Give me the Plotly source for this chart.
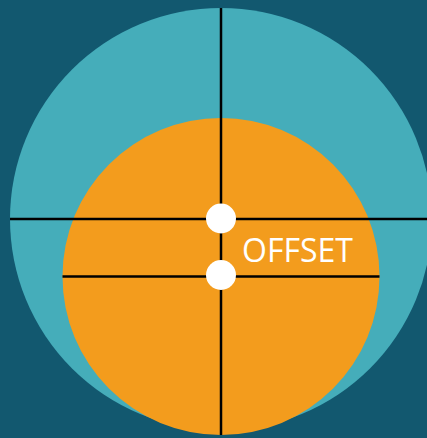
import plotly.graph_objects as go

# Data (pixel-like units of the drawing, y grows downward)
circle_names = ["outer", "inner"]
circle_cx = [221, 221]
circle_cy = [219, 276.5]
circle_r = [211, 158.5]
circle_colors = ["#45ADBA", "#F39C1D"]

dot_x = [221, 221]
dot_y = [218.5, 275]

label_text = "OFFSET"
label_x = 297
label_y = 249

W, H = 427, 438
BG = "#12586F"

fig = go.Figure()
shapes = []
for cx, cy, r, col in zip(circle_cx, circle_cy, circle_r, circle_colors):
    shapes.append(dict(type="circle", xref="x", yref="y",
                       x0=cx - r, x1=cx + r, y0=cy - r, y1=cy + r,
                       fillcolor=col, line=dict(width=0), layer="below"))
# vertical axis line
shapes.append(dict(type="line", xref="x", yref="y", layer="below",
                   x0=circle_cx[0], x1=circle_cx[0],
                   y0=circle_cy[0] - circle_r[0], y1=circle_cy[1] + circle_r[1],
                   line=dict(color="#000000", width=2.5)))
# horizontal lines through each circle
for cx, cy, r in zip(circle_cx, circle_cy, circle_r):
    shapes.append(dict(type="line", xref="x", yref="y", layer="below",
                       x0=cx - r, x1=cx + r, y0=cy, y1=cy,
                       line=dict(color="#000000", width=2.5)))

fig.add_trace(go.Scatter(x=dot_x, y=dot_y, mode="markers",
                         marker=dict(size=30, color="white", line=dict(width=0)),
                         hoverinfo="skip", showlegend=False, cliponaxis=False))

fig.add_annotation(x=label_x, y=label_y, xref="x", yref="y", text=label_text,
                   showarrow=False, font=dict(family="Open Sans", size=32, color="white"),
                   xanchor="center", yanchor="middle")

fig.update_layout(
    width=W, height=H, margin=dict(l=0, r=0, t=0, b=0),
    paper_bgcolor=BG, plot_bgcolor=BG, shapes=shapes, showlegend=False,
    xaxis=dict(range=[0, W], visible=False, fixedrange=True),
    yaxis=dict(range=[H, 0], visible=False, fixedrange=True),
)
fig.write_html("out.html", config={"displayModeBar": False},
               post_script="document.body.style.margin='0';document.body.style.background='%s';" % BG)
